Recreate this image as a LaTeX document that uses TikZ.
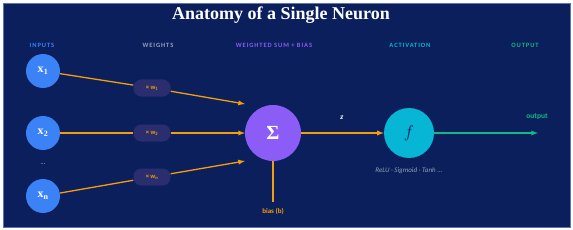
\documentclass[tikz,border=0pt]{standalone}
\usepackage{fontspec}
\setmainfont{Liberation Serif}
\newfontfamily\labfont{Carlito}
\newfontfamily\headfont[LetterSpace=14]{Carlito}
\definecolor{fondo}{HTML}{0A1F5C}
\definecolor{bordo}{HTML}{5B74B8}
\definecolor{pillola}{HTML}{2B2E6E}
\definecolor{blu}{HTML}{3B82F6}
\definecolor{viola}{HTML}{8B5CF6}
\definecolor{ciano}{HTML}{06B6D4}
\definecolor{verde}{HTML}{10B981}
\definecolor{arancio}{HTML}{F59E0B}
\definecolor{grigio}{HTML}{94A3B8}
\tikzset{
  intesta/.style={font=\headfont\bfseries\fontsize{6.5}{7}\selectfont},
  ingresso/.style={circle, fill=blu, minimum size=34pt, inner sep=0pt, text=white,
    font=\fontsize{12}{12}\selectfont},
  peso/.style={fill=pillola, rounded corners=8pt, minimum width=37pt, minimum height=17pt,
    inner sep=0pt, text=arancio, font=\labfont\bfseries\fontsize{6.5}{7}\selectfont},
  filo/.style={draw=arancio, line width=1.3pt},
}
\begin{document}
\begin{tikzpicture}[x=1pt, y=-1pt]
    % cornice
    \useasboundingbox (0,0) rectangle (573,230);
    \draw[fill=fondo, draw=bordo, line width=0.8pt] (3,3) rectangle (570,227);

    % titolo
    \node[text=white, font=\bfseries\fontsize{18}{20}\selectfont] (titolo) at (281,15) {Anatomy of a Single Neuron};

    % intestazioni
    \node[intesta, text=blu] (hin) at (42,45) {INPUTS};
    \node[intesta, text=grigio] (hpesi) at (158,45) {WEIGHTS};
    \node[intesta, text=viola] (hsomma) at (274,45) {WEIGHTED SUM + BIAS};
    \node[intesta, text=ciano] (hatt) at (410,45) {ACTIVATION};
    \node[intesta, text=verde] (hout) at (525,45) {OUTPUT};

    % ingressi
    \node[ingresso] (x1) at (43,71) {$\mathbf{x_1}$};
    \node[ingresso] (x2) at (43,133) {$\mathbf{x_2}$};
    \node[ingresso] (xn) at (43,196) {$\mathbf{x_n}$};
    \node[text=grigio, font=\labfont\bfseries\fontsize{6}{6}\selectfont] (punti) at (43,164) {...};

    % pesi
    \node[peso] (w1) at (152,88) {× w\textsubscript{1}};
    \node[peso] (w2) at (152,133) {× w\textsubscript{2}};
    \node[peso] (wn) at (152,177) {× w\textsubscript{n}};

    % somma e attivazione
    \node[circle, fill=viola, minimum size=56pt, inner sep=0pt, text=white,
      font=\bfseries\fontsize{20}{20}\selectfont] (somma) at (273,133) {Σ};
    \node[circle, fill=ciano, minimum size=50pt, inner sep=0pt, text=fondo,
      font=\fontsize{17}{17}\selectfont] (att) at (409,133) {$f$};

    % punti di arrivo
    \coordinate (s1) at (245,104);
    \coordinate (s2) at (245,133);
    \coordinate (sn) at (245,161);
    \coordinate (b) at (273,202);
    \coordinate (fine) at (538,133);

    % collegamenti
    \draw[filo] (x1) -- (w1);
    \draw[filo] (x2) -- (w2);
    \draw[filo] (xn) -- (wn);
    \draw[filo, -latex] (w1) -- (s1);
    \draw[filo, -latex] (w2) -- (s2);
    \draw[filo, -latex] (wn) -- (sn);
    \draw[filo] (somma) -- (b);
    \draw[filo, -latex] (somma) -- (att);
    \draw[draw=verde, line width=1.3pt, -latex] (att) -- (fine);

    % etichette
    \node[text=arancio, font=\labfont\bfseries\fontsize{7}{8}\selectfont] (bias) at (273,211) {bias (b)};
    \node[text=white, font=\bfseries\itshape\fontsize{8}{8}\selectfont] (zeta) at (342,118) {z};
    \node[text=grigio, font=\labfont\itshape\fontsize{7}{8}\selectfont] (funz) at (409,171) {ReLU · Sigmoid · Tanh ...};
    \node[text=verde, font=\labfont\bfseries\fontsize{7.5}{8}\selectfont] (uscita) at (537,117) {output};
\end{tikzpicture}
\end{document}
